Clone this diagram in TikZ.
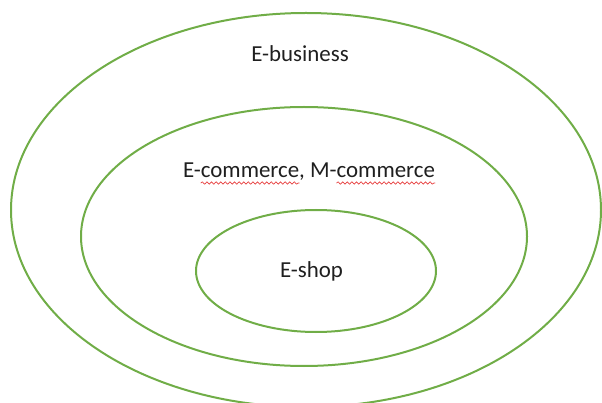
\documentclass[tikz,border=0pt]{standalone}
\usepackage{fontspec}
\setmainfont{Carlito}
\usetikzlibrary{decorations.pathmorphing}
\definecolor{ringgreen}{RGB}{112,173,71}
\definecolor{spellred}{RGB}{230,60,60}
\tikzset{
  ring/.style={draw=ringgreen,line width=2pt},
  lbl/.style={inner sep=0pt,outer sep=0pt,text=black!88,font=\fontsize{22.9}{27}\selectfont},
  spell/.style={draw=spellred,line width=0.7pt,decorate,
    decoration={snake,amplitude=1.2pt,segment length=4.6pt}}
}
\begin{document}
\begin{tikzpicture}[x=1pt,y=-1pt,line join=round,line cap=round]
    \useasboundingbox (0,0) rectangle (602,403);
    \coordinate (C1) at (306,210);
    \coordinate (C2) at (304,236.5);
    \coordinate (C3) at (316,271);
    \draw[ring] (C1) ellipse [x radius=295pt, y radius=197pt];
    \draw[ring] (C2) ellipse [x radius=223pt, y radius=129.5pt];
    \draw[ring] (C3) ellipse [x radius=120pt, y radius=61pt];
    \node[lbl,anchor=base] (ebiz) at (300,62) {E-business};
    % second label in pieces, so the marks sit under each word
    \node[lbl,anchor=base west] (ecE) at (183,178) {E-};
    \node[lbl,anchor=base west] (ecC1) at (ecE.base east) {commerce};
    \node[lbl,anchor=base west] (ecM) at (ecC1.base east) {,\ M-};
    \node[lbl,anchor=base west] (ecC2) at (ecM.base east) {commerce};
    \draw[spell] ([yshift=-5pt]ecC1.base west) -- ([yshift=-5pt]ecC1.base east);
    \draw[spell] ([yshift=-5pt]ecC2.base west) -- ([yshift=-5pt]ecC2.base east);
    \node[lbl,anchor=base] (eshop) at (311.5,277) {E-shop};
\end{tikzpicture}
\end{document}
